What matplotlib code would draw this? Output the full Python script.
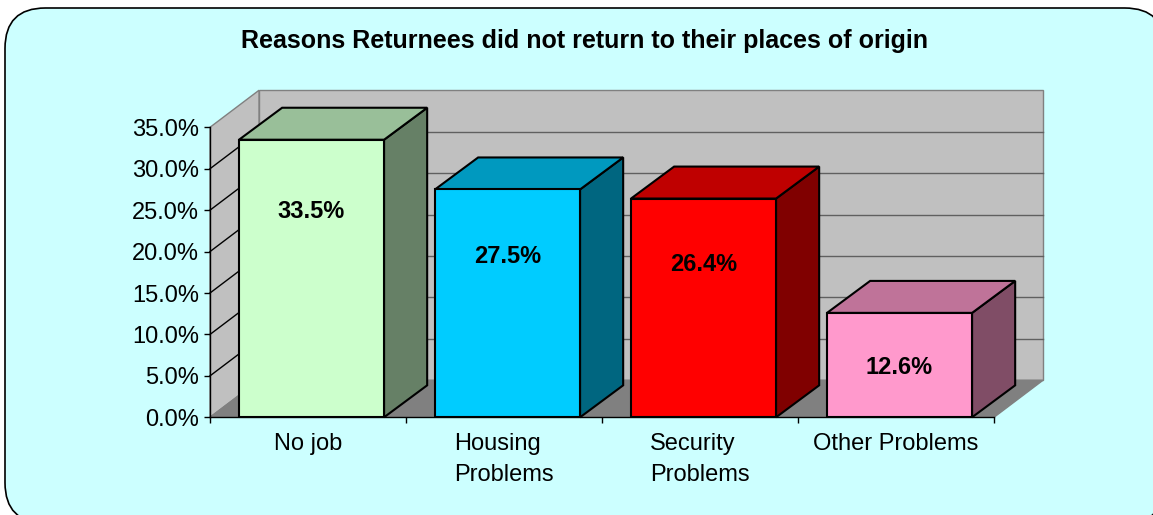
import numpy as np
import matplotlib.pyplot as plt
from matplotlib.patches import Polygon, FancyBboxPatch

plt.rcParams['font.family'] = ['Liberation Sans', 'DejaVu Sans']

categories = ['No job', 'Housing\nProblems', 'Security\nProblems', 'Other Problems']
values = [33.5, 27.5, 26.4, 12.6]
front_colors = ['#CCFFCC', '#00CCFF', '#FF0000', '#FF99CC']
top_colors = ['#99BF99', '#0099BF', '#BF0000', '#BF7399']
side_colors = ['#668066', '#006680', '#800000', '#804D66']
yticks = np.arange(0, 36, 5)

W, H = 1153, 515
fig = plt.figure(figsize=(W / 100, H / 100), dpi=100)
fig.patch.set_facecolor('white')

# rounded chart-area frame
frame = FancyBboxPatch((5 / W, -8 / H), 1160 / W, 515 / H,
                       boxstyle='round,pad=0,rounding_size=0.035',
                       transform=fig.transFigure, facecolor='#CCFFFF',
                       edgecolor='black', lw=1.2, mutation_aspect=W / H, zorder=-5)
fig.patches.append(frame)

fig.text(584 / W, 1 - 48 / H, 'Reasons Returnees did not return to their places of origin',
         ha='center', va='baseline', fontsize=18, fontweight='bold')

ax = fig.add_axes([210 / W, (H - 417.3) / H, 784 / W, 290 / H])
ax.set_facecolor('none')
ax.set_xlim(-0.5, 3.5)
ax.set_ylim(0, 35)

# depth offsets (wall and bars) in data units
wdx, wdy = 0.25, 4.47
bdx, bdy = 0.22, 3.86
x0, x1 = -0.5, 3.5

# back wall
ax.add_patch(Polygon([(x0 + wdx, wdy), (x1 + wdx, wdy), (x1 + wdx, 35 + wdy), (x0 + wdx, 35 + wdy)],
                     closed=True, facecolor='#C0C0C0', edgecolor='#808080', lw=1, clip_on=False, zorder=1))
# left wall
ax.add_patch(Polygon([(x0, 0), (x0, 35), (x0 + wdx, 35 + wdy), (x0 + wdx, wdy)],
                     closed=True, facecolor='#C0C0C0', edgecolor='#808080', lw=1, clip_on=False, zorder=1))
# floor
ax.add_patch(Polygon([(x0, 0), (x1, 0), (x1 + wdx, wdy), (x0 + wdx, wdy)],
                     closed=True, facecolor='#808080', edgecolor='#808080', lw=1, clip_on=False, zorder=1))

for t in yticks[1:-1]:
    ax.plot([x0 + wdx, x1 + wdx], [t + wdy, t + wdy], color='#606060', lw=1, clip_on=False, zorder=2)
    ax.plot([x0, x0 + wdx], [t, t + wdy], color='black', lw=1, clip_on=False, zorder=2)

xpos = np.arange(len(values)) + 0.018
bw = 0.74
for i, v in enumerate(values):
    l, r = xpos[i] - bw / 2, xpos[i] + bw / 2
    ax.add_patch(Polygon([(r, 0), (r + bdx, bdy), (r + bdx, v + bdy), (r, v)], closed=True,
                         facecolor=side_colors[i], edgecolor='black', lw=1.5, clip_on=False, zorder=3))
    ax.add_patch(Polygon([(l, v), (r, v), (r + bdx, v + bdy), (l + bdx, v + bdy)], closed=True,
                         facecolor=top_colors[i], edgecolor='black', lw=1.5, clip_on=False, zorder=3))
ax.bar(xpos, values, width=bw, color=front_colors, edgecolor='black', lw=1.5, zorder=4)

for i, v in enumerate(values):
    ax.text(xpos[i], 0.9 * v - 5.3, '%.1f%%' % v, ha='center', va='center',
            fontsize=17, fontweight='bold', zorder=5)

for s in ['top', 'right']:
    ax.spines[s].set_visible(False)
for s in ['left', 'bottom']:
    ax.spines[s].set_color('black')
    ax.spines[s].set_linewidth(1)
    ax.spines[s].set_zorder(6)

ax.set_yticks(yticks)
ax.set_yticklabels(['%.1f%%' % t for t in yticks])
ax.tick_params(axis='y', length=4, width=1, pad=4, labelsize=17)
ax.set_xticks(np.arange(len(categories)))
ax.set_xticklabels(categories, multialignment='left', linespacing=1.5)
ax.set_xticks(np.arange(len(categories) + 1) - 0.5, minor=True)
ax.tick_params(axis='x', which='major', length=0, pad=11.5, labelsize=17)
ax.tick_params(axis='x', which='minor', length=4, width=1)

fig.savefig('out.png', dpi=100)
